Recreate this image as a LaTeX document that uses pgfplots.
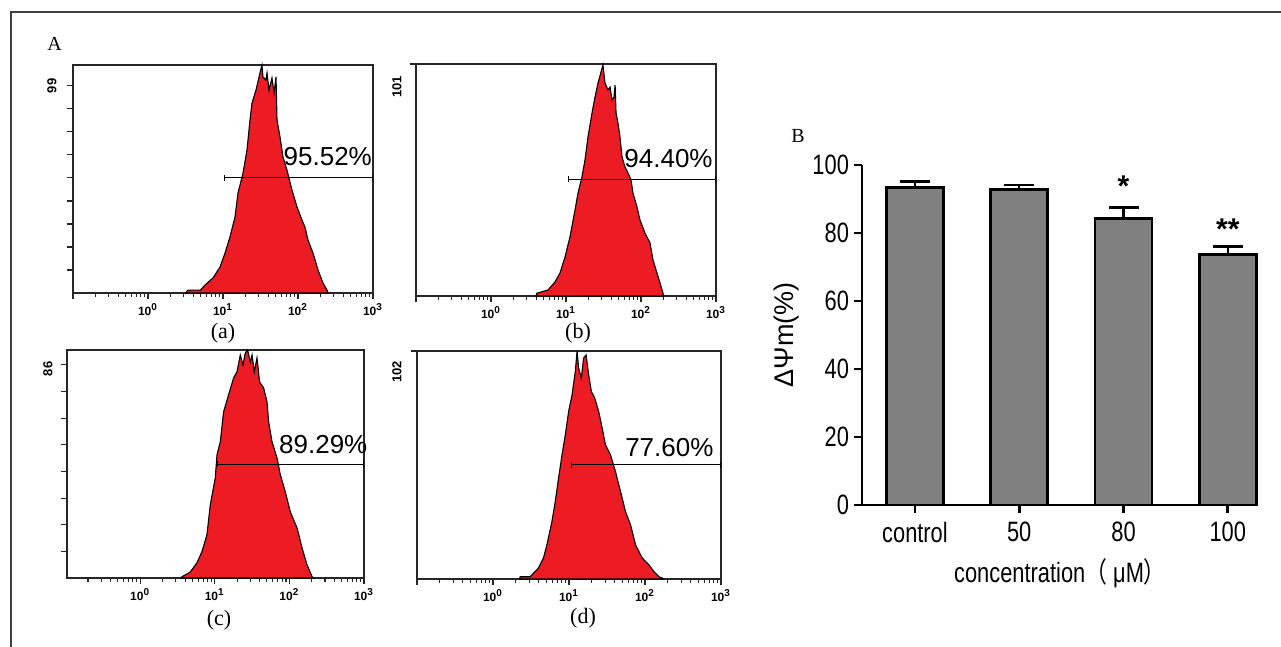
\documentclass[border=0pt]{standalone}
\usepackage{pgfplots}
\pgfplotsset{compat=1.18}
\usepackage{fontspec}
\usetikzlibrary{arrows.meta}
\setmainfont{Liberation Serif}
\newfontfamily\arial{Liberation Sans}
\newfontfamily\narrow[FakeStretch=0.78]{Liberation Sans}
\newfontfamily\cjk[FakeStretch=0.78]{Noto Sans CJK SC}
\definecolor{histred}{RGB}{237,28,36}
\definecolor{bargray}{RGB}{128,128,128}
\definecolor{framegray}{RGB}{64,64,64}

\pgfplotsset{
  histo/.style={
    scale only axis, clip=false,
    xmin=-1, xmax=3, ymin=0,
    axis line style={black!85, line width=0.6pt},
    tick style={black!85, line width=0.55pt},
    tick align=outside,
    xtick={-1,0,1,2,3},
    xticklabels={{},{10\textsuperscript{0}},{10\textsuperscript{1}},{10\textsuperscript{2}},{10\textsuperscript{3}}},
    minor xtick={-0.699,-0.523,-0.398,-0.301,-0.222,-0.155,-0.097,-0.046,
      0.301,0.477,0.602,0.699,0.778,0.845,0.903,0.954,
      1.301,1.477,1.602,1.699,1.778,1.845,1.903,1.954,
      2.301,2.477,2.602,2.699,2.778,2.845,2.903,2.954},
    xtick pos=bottom, ytick pos=left,
    major tick length=3.2pt, minor tick length=2pt,
    yticklabels={},
    xticklabel style={font=\arial\bfseries\fontsize{6}{6.5}\selectfont, inner sep=1pt, yshift=-1pt},
  },
}
\tikzset{
  histfill/.style={fill=histred, draw=black, line width=0.55pt},
  gate/.style={black, line width=0.5pt, {Bar[width=3pt]}-{Bar[width=3pt]}},
  pct/.style={font=\arial\fontsize{13}{13}\selectfont, anchor=east, inner sep=0pt},
  cnt/.style={font=\arial\bfseries\fontsize{6.5}{7}\selectfont, inner sep=0pt},
}

\begin{document}
\begin{tikzpicture}
\useasboundingbox (0,0) rectangle (640.5pt,323.5pt);
\draw[framegray, line width=0.6pt] (5.5pt,0) -- (5.5pt,317.5pt) -- (640.5pt,317.5pt);
\node[font=\fontsize{10}{10}\selectfont] at (54.5*0.5pt,603.5*0.5pt) {A};
\node[font=\fontsize{10}{10}\selectfont] at (798*0.5pt,511*0.5pt) {B};

% (a)
\begin{axis}[histo, at={(73*0.5pt,354*0.5pt)}, anchor=south west,
  width=150pt, height=114pt, ymax=109, ytick={11,22,...,99}]
\addplot[histfill] coordinates {(0.50,0) (0.533,1.4) (0.70,1.4) (0.76,3.8) (0.867,7.2) (0.96,12.4) (1.027,19.1) (1.093,26.8) (1.16,36.3) (1.2,47.8) (1.267,57.4) (1.32,68.4) (1.36,82.7) (1.387,90.8) (1.44,97.0) (1.493,105.2) (1.52,109) (1.533,103.3) (1.573,101.8) (1.587,105.2) (1.613,97) (1.653,102.8) (1.68,95.6) (1.707,103.3) (1.72,82.7) (1.76,74.6) (1.8,65) (1.853,58.8) (1.92,49.2) (1.987,41.1) (2.053,34.9) (2.093,31.5) (2.133,25.3) (2.2,19.1) (2.267,11) (2.333,4.8) (2.387,1.4) (2.4,0)} \closedcycle;
\addplot[gate] coordinates {(1.013,55) (3,55)};
\node[pct] at (axis cs:2.99,65) {95.52\%};
\node[cnt, xshift=-10.5pt, rotate=90] at (axis cs:-1,99) {99};
\end{axis}
\node[font=\fontsize{11}{11}\selectfont] at (223*0.5pt,314*0.5pt) {(a)};

% (b)
\begin{axis}[histo, at={(416*0.5pt,351*0.5pt)}, anchor=south west,
  width=150pt, height=116pt, ymax=101, ytick={101}]
\addplot[histfill] coordinates {(0.6,0) (0.61,1.2) (0.76,2.6) (0.853,6.1) (0.92,10) (0.987,17) (1.053,25.7) (1.12,37.4) (1.16,44.8) (1.213,51.8) (1.253,59.2) (1.293,69.2) (1.347,79.7) (1.387,86.6) (1.427,92.7) (1.493,100.6) (1.52,92.7) (1.56,89.7) (1.587,91) (1.613,85.3) (1.64,86.6) (1.655,91.9) (1.667,79.7) (1.693,75.3) (1.72,69.2) (1.747,60.5) (1.787,56.2) (1.827,53.5) (1.867,50.5) (1.893,44.8) (1.947,38.7) (1.987,33.1) (2.053,27.4) (2.12,23.1) (2.16,15.7) (2.213,10) (2.253,5.7) (2.293,1.3) (2.3,0)} \closedcycle;
\addplot[gate] coordinates {(1.027,50.9) (3,50.9)};
\node[pct] at (axis cs:2.96,60) {94.40\%};
\node[cnt, xshift=-9.5pt, rotate=90] at (axis cs:-1,91) {101};
\end{axis}
\node[font=\fontsize{11}{11}\selectfont] at (578*0.5pt,314*0.5pt) {(b)};

% (c)
\begin{axis}[histo, at={(67*0.5pt,69*0.5pt)}, anchor=south west,
  width=148.5pt, height=114pt, xmin=-0.98, ymax=92,
  ytick={10.75,21.5,32.25,43,53.75,64.5,75.25,86}]
\addplot[histfill] coordinates {(0.55,0) (0.56,0.5) (0.671,2.4) (0.761,6.1) (0.828,10.6) (0.895,17.4) (0.94,29.5) (1.007,40.4) (1.03,49.7) (1.074,54.9) (1.118,67) (1.185,73.9) (1.252,80.7) (1.298,83.2) (1.342,90) (1.378,86) (1.409,90.8) (1.44,92) (1.477,87.2) (1.5,90) (1.53,83.2) (1.566,88.8) (1.601,79.1) (1.655,76.7) (1.7,71.1) (1.722,63) (1.768,54.9) (1.835,48.4) (1.879,41.6) (1.946,34.7) (2.013,26.6) (2.103,20.2) (2.17,12.1) (2.238,5.2) (2.305,0.5) (2.32,0)} \closedcycle;
\addplot[gate] coordinates {(1.034,46) (3,46)};
\node[pct] at (axis cs:3.05,53.7) {89.29\%};
\node[cnt, xshift=-9.5pt, rotate=90] at (axis cs:-0.98,84.4) {86};
\end{axis}
\node[font=\fontsize{11}{11}\selectfont] at (219*0.5pt,27*0.5pt) {(c)};

% (d)
\begin{axis}[histo, at={(417*0.5pt,68*0.5pt)}, anchor=south west,
  width=152pt, height=114pt, ymax=102, ytick={102}]
\addplot[histfill] coordinates {(0.35,0) (0.357,1) (0.489,1) (0.511,1.8) (0.598,4.9) (0.664,9.4) (0.709,15.2) (0.775,25.6) (0.819,34.6) (0.863,45.2) (0.908,55.5) (0.951,64.4) (0.995,74.9) (1.04,82.3) (1.083,92.8) (1.106,102) (1.127,94.4) (1.162,89.9) (1.193,98.9) (1.225,100.2) (1.259,91.3) (1.295,83.8) (1.338,81) (1.391,74.9) (1.436,67.6) (1.48,60) (1.546,55.5) (1.612,48) (1.678,39.1) (1.744,30.1) (1.81,24.2) (1.876,15.2) (1.964,9.4) (2.052,6.3) (2.118,3.3) (2.184,1) (2.229,0.4) (2.24,0)} \closedcycle;
\addplot[gate] coordinates {(1.03,51) (3,51)};
\node[pct] at (axis cs:2.906,58.6) {77.60\%};
\node[cnt, xshift=-10pt, rotate=90] at (axis cs:-1,92.6) {102};
\end{axis}
\node[font=\fontsize{11}{11}\selectfont] at (583*0.5pt,29*0.5pt) {(d)};

% B
\begin{axis}[at={(862*0.5pt,142*0.5pt)}, anchor=south west, scale only axis,
  width=198pt, height=170pt, clip=false,
  xmin=-0.508, xmax=3.29, ymin=0, ymax=100,
  axis x line*=bottom, axis y line*=left,
  axis line style={line width=1.4pt, black},
  tick style={line width=1.3pt, black},
  tick align=outside, major tick length=4pt,
  xtick={0,1,2,3}, xticklabels={control,50,80,100},
  ytick={0,20,...,100},
  /pgf/number format/assume math mode=true,
  ticklabel style={font=\narrow\fontsize{14}{14}\selectfont},
  yticklabel style={xshift=1pt},
  xticklabel style={yshift=-1pt},
  ylabel={ΔΨm(\%)}, ylabel style={font=\arial\fontsize{13.5}{14}\selectfont},
  xlabel={concentration{\cjk（} μM{\cjk）}},
  xlabel style={font=\narrow\fontsize{14}{14}\selectfont, yshift=-1pt},
]
\addplot[ybar, bar width=28.5pt, fill=bargray, draw=black, line width=1.3pt,
  error bars/.cd, y dir=plus, y explicit,
  error bar style={line width=1.2pt, black},
  error mark options={rotate=90, line width=1.2pt, mark size=7.5pt, black}]
  coordinates {(0,93.4) +- (0,1.7) (1,92.8) +- (0,1.3) (2,84.3) +- (0,3.2) (3,73.7) +- (0,2.3)};
\node[font=\arial\bfseries\fontsize{15}{15}\selectfont, anchor=north, inner sep=0pt] at (axis cs:2,97) {*};
\node[font=\arial\bfseries\fontsize{15}{15}\selectfont, anchor=north, inner sep=0pt] at (axis cs:3,84.4) {**};
\end{axis}
\end{tikzpicture}
\end{document}
